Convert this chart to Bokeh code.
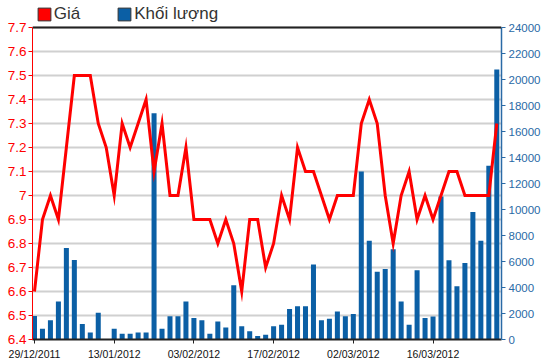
from bokeh.plotting import figure
from bokeh.models import (Range1d, LinearAxis, FixedTicker, Legend, LegendItem,
                          CustomJSTickFormatter, Span)
from bokeh.embed import file_html
from bokeh.resources import INLINE

# ---- data ----
series_names = ["Giá", "Khối lượng"]
price = [6.6, 6.9, 7.0, 6.9, 7.2, 7.5, 7.5, 7.5, 7.3, 7.2,
         7.0, 7.3, 7.2, 7.3, 7.4, 7.1, 7.3, 7.0, 7.0, 7.2,
         6.9, 6.9, 6.9, 6.8, 6.9, 6.8, 6.6, 6.9, 6.9, 6.7,
         6.8, 7.0, 6.9, 7.2, 7.1, 7.1, 7.0, 6.9, 7.0, 7.0,
         7.0, 7.3, 7.4, 7.3, 7.0, 6.8, 7.0, 7.1, 6.9, 7.0,
         6.9, 7.0, 7.1, 7.1, 7.0, 7.0, 7.0, 7.0, 7.3]
volume = [1800, 820, 1480, 2920, 7040, 6120, 1200, 540, 2050, 0,
          820, 440, 440, 540, 540, 17400, 820, 1790, 1790, 2920,
          1660, 1480, 440, 1380, 920, 4170, 1020, 640, 260, 360,
          1020, 1130, 2350, 2560, 2560, 5760, 1480, 1590, 2150, 1790,
          1970, 12930, 7600, 5220, 5430, 6940, 2920, 1130, 5320, 1660,
          1770, 11000, 6090, 4100, 5890, 9800, 7600, 13360, 20760]
x_tick_pos = [0, 10, 20, 30, 40, 50]
x_tick_labels = ["29/12/2011", "13/01/2012", "03/02/2012",
                 "17/02/2012", "02/03/2012", "16/03/2012"]
price_ticks = [6.4, 6.5, 6.6, 6.7, 6.8, 6.9, 7.0, 7.1, 7.2, 7.3, 7.4, 7.5, 7.6, 7.7]
volume_ticks = [0, 2000, 4000, 6000, 8000, 10000, 12000, 14000,
                16000, 18000, 20000, 22000, 24000]

idx = list(range(len(price)))
FONT = "Liberation Sans"
RED = "#ff0000"
BLUE = "#0b5fa5"
AXBLUE = "#2a6aa6"

# headroom above the top tick holds the legend
p_lo, p_hi = price_ticks[0], price_ticks[-1]
p_top = p_hi + 0.1
v_top = volume_ticks[-1] * (p_top - p_lo) / (p_hi - p_lo)

p = figure(width=550, height=364, output_backend="svg", toolbar_location=None,
           x_range=Range1d(-0.25, len(price) - 1 + 0.59),
           y_range=Range1d(p_lo, p_top),
           min_border_top=3, min_border_left=32, min_border_right=49,
           min_border_bottom=25)
p.extra_y_ranges = {"vol": Range1d(volume_ticks[0], v_top)}
p.outline_line_color = None
p.background_fill_color = "white"
p.border_fill_color = "white"

# bottom axis
xa = p.xaxis[0]
xa.ticker = FixedTicker(ticks=x_tick_pos)
xa.major_label_overrides = {k: v for k, v in zip(x_tick_pos, x_tick_labels)}
xa.axis_line_color = "#222222"
xa.axis_line_width = 2
xa.major_tick_line_color = "#222222"
xa.major_tick_in = 0
xa.major_tick_out = 4
xa.minor_tick_line_color = None
xa.major_label_standoff = 4
xa.major_label_text_font = FONT
xa.major_label_text_font_size = "10.5px"
xa.major_label_text_color = "#111111"
p.xgrid.visible = False

# left axis
ya = p.yaxis[0]
ya.ticker = FixedTicker(ticks=price_ticks)
ya.bounds = (p_lo, p_hi)
ya.formatter = CustomJSTickFormatter(code="return String(Number(tick.toFixed(1)))")
ya.axis_line_color = RED
ya.axis_line_width = 1
ya.major_tick_line_color = RED
ya.major_tick_in = 0
ya.major_tick_out = 4
ya.minor_tick_line_color = None
ya.major_label_standoff = 2
ya.major_label_text_font = FONT
ya.major_label_text_font_size = "13.5px"
ya.major_label_text_color = RED
p.ygrid.ticker = FixedTicker(ticks=price_ticks)
p.ygrid.grid_line_color = "#d0d0d0"
p.ygrid.grid_line_width = 2

# right axis
ra = LinearAxis(y_range_name="vol", ticker=FixedTicker(ticks=volume_ticks),
                bounds=(volume_ticks[0], volume_ticks[-1]))
ra.axis_line_color = AXBLUE
ra.axis_line_width = 1.5
ra.major_tick_line_color = AXBLUE
ra.major_tick_in = 0
ra.major_tick_out = 4
ra.minor_tick_line_color = None
ra.major_label_standoff = 3
ra.major_label_text_font = FONT
ra.major_label_text_font_size = "11.5px"
ra.major_label_text_color = AXBLUE
p.add_layout(ra, "right")

# top border line
p.add_layout(Span(location=p_hi, dimension="width",
                  line_color="#222222", line_width=2))

# data
p.vbar(x=idx, top=volume, width=0.63, y_range_name="vol",
       fill_color=BLUE, line_color=None)
p.line(idx, price, line_color=RED, line_width=3, line_join="miter")

# legend swatches (zero-height bars placed off-screen, only used by the legend)
d_red = p.vbar(x=[-100], top=[0], width=1, fill_color=RED, line_color="#333333")
d_blue = p.vbar(x=[-100], top=[0], width=1, fill_color=BLUE, line_color="#333333")
leg = Legend(items=[LegendItem(label=series_names[0], renderers=[d_red]),
                    LegendItem(label=series_names[1], renderers=[d_blue])],
             orientation="horizontal", location=(3.7, 314.7),
             glyph_width=16, glyph_height=16, label_height=16,
             label_standoff=2, spacing=36, padding=0, margin=0,
             border_line_color=None, background_fill_alpha=0,
             label_text_font=FONT, label_text_font_size="17px",
             label_text_color="#333333")
p.add_layout(leg, "center")

open("out.html", "w").write(file_html(p, INLINE))
